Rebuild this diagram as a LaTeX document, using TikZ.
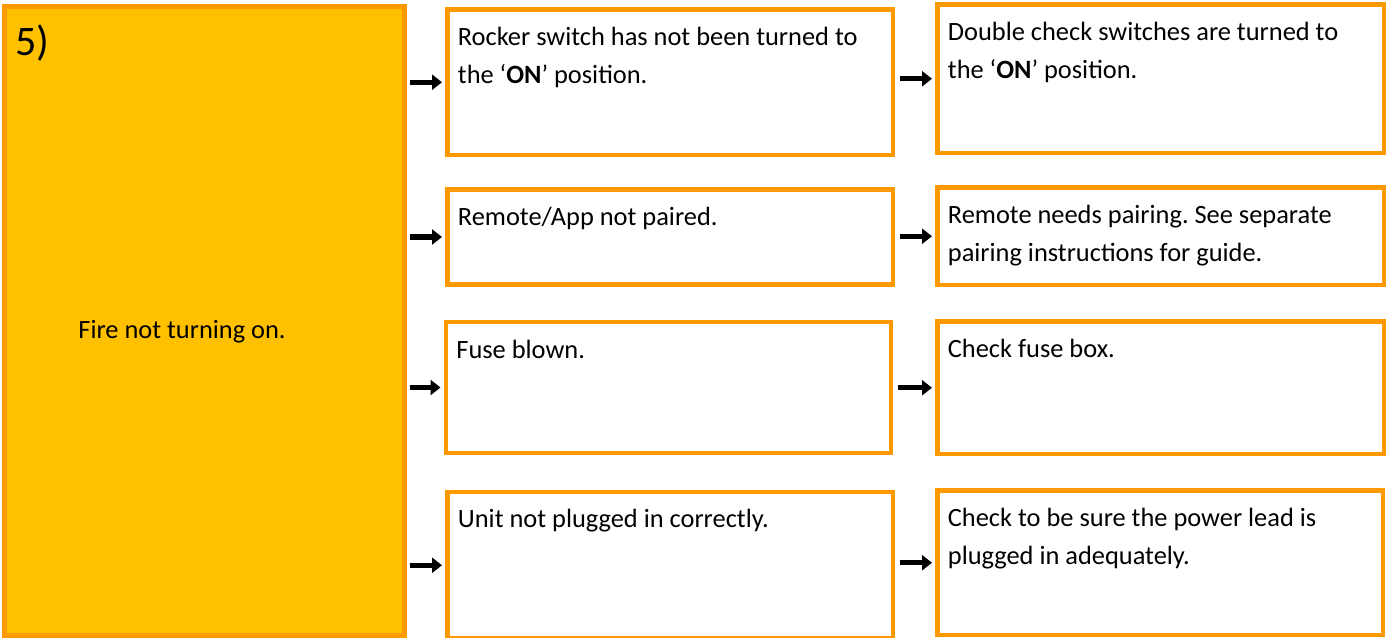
\documentclass[tikz,border=0pt]{standalone}
\usepackage{fontspec}
\setmainfont{Carlito}
\frenchspacing
\usetikzlibrary{arrows.meta}
\definecolor{boxorange}{RGB}{255,153,0}
\definecolor{mainfill}{RGB}{255,192,0}
\tikzset{
  box/.style={draw=boxorange, line width=2.25pt, rectangle, inner sep=0pt, outer sep=0pt, anchor=north west, fill=white},
  boxtext/.style={anchor=north west, inner sep=0pt, align=left, font=\fontsize{13.2}{19}\selectfont},
  arr/.style={-{Triangle[length=5pt,width=7.5pt]}, line width=2.6pt, shorten <=2.5pt, shorten >=2.75pt},
}
\begin{document}
\begin{tikzpicture}[x=0.5pt,y=-0.5pt]
\useasboundingbox (0,0) rectangle (1386,637);
% problem
\node[box, fill=mainfill, minimum width=200pt, minimum height=314.5pt] (main) at (4.5,6.5) {};
\node[boxtext, anchor=base west, font=\fontsize{21}{25}\selectfont] (num) at (15,55) {5)};
\node[boxtext, anchor=base west] (mtext) at (78,338) {Fire not turning on.};

% causes
\node[box, minimum width=222.75pt, minimum height=72.75pt] (c1) at (447.5,9.5) {};
\node[box, minimum width=222.75pt, minimum height=47.5pt] (c2) at (447.5,189.5) {};
\node[box, minimum width=222.5pt, minimum height=65.5pt] (c3) at (446,322) {};
\node[box, minimum width=222.75pt, minimum height=73.25pt] (c4) at (447.5,492) {};

% fixes
\node[box, minimum width=223.25pt, minimum height=74.25pt] (f1) at (937.5,4.5) {};
\node[box, minimum width=223.25pt, minimum height=48.75pt] (f2) at (937.5,187.5) {};
\node[box, minimum width=223.25pt, minimum height=66.25pt] (f3) at (937.5,321.5) {};
\node[box, minimum width=222.75pt, minimum height=72.25pt] (f4) at (937.5,490.5) {};

\node[boxtext] (c1t) at ([shift={(5pt,-8.5pt)}]c1.north west) {Rocker switch has not been turned to\\the ‘\textbf{ON}’ position.};
\node[boxtext] (c2t) at ([shift={(5pt,-8.5pt)}]c2.north west) {Remote/App not paired.};
\node[boxtext] (c3t) at ([shift={(5pt,-9pt)}]c3.north west) {Fuse blown.};
\node[boxtext] (c4t) at ([shift={(5pt,-8.5pt)}]c4.north west) {Unit not plugged in correctly.};

\node[boxtext] (f1t) at ([shift={(5pt,-8.5pt)}]f1.north west) {Double check switches are turned to\\the ‘\textbf{ON}’ position.};
\node[boxtext] (f2t) at ([shift={(5pt,-8.5pt)}]f2.north west) {Remote needs pairing. See separate\\pairing instructions for guide.};
\node[boxtext] (f3t) at ([shift={(5pt,-8.5pt)}]f3.north west) {Check fuse box.};
\node[boxtext] (f4t) at ([shift={(5pt,-8.5pt)}]f4.north west) {Check to be sure the power lead is\\plugged in adequately.};

\draw[arr] (main.east |- c1.west) -- (c1.west);
\draw[arr] (main.east |- c2.west) -- (c2.west);
\draw[arr] (main.east |- c3.west) -- (c3.west);
\draw[arr] (main.east |- c4.west) -- (c4.west);

\draw[arr, shorten <=3.5pt] (c1.east |- f1.west) -- (f1.west);
\draw[arr, shorten <=3.5pt] (c2.east |- f2.west) -- (f2.west);
\draw[arr, shorten <=3.5pt] (c3.east |- f3.west) -- (f3.west);
\draw[arr, shorten <=3.5pt] (c4.east |- f4.west) -- (f4.west);
\end{tikzpicture}
\end{document}
